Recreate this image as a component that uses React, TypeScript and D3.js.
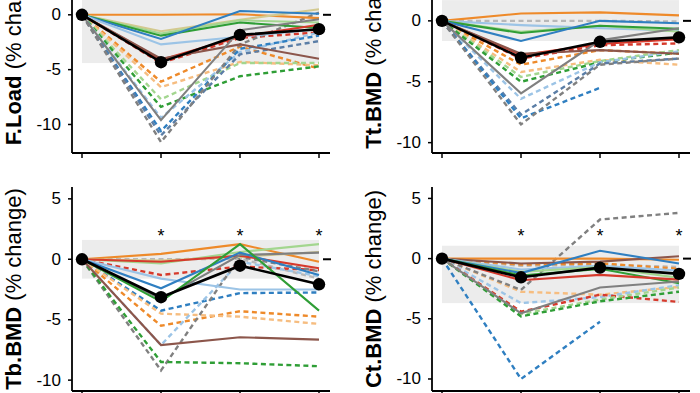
import React from "react";
import * as d3 from "d3";

// time points (baseline + 3 follow-ups)
const timepoints = [0, 1, 2, 3];
const subjects = ["P1", "P2", "P3", "P4", "P5", "P6", "P7", "P8", "P9", "P10", "P11", "P12"];
const yTicks = [-10, -5, 0, 5];

type Series = Record<string, (number | null)[]>;

// ---- F.Load ----
const fLoadSolid: Series = {
  P3: [0, 0, 0.05, -0.3],
  P10: [0, -1.5, -0.45, 0.5],
  P6: [0, -1.7, -0.5, -0.7],
  P5: [0, -1.9, -0.7, -1.2],
  P1: [0, -2.2, 0.35, 0.1],
  P2: [0, -2.7, -2.0, -1.3],
  P7: [0, -4.1, -2.0, -0.9],
  P8: [0, -4.0, -2.7, -4.0],
  P9: [0, -9.6, -1.4, -0.4],
};
const fLoadDashed: Series = {
  P7: [0, -4.4, -2.1, -1.6],
  P3: [0, -6.1, -2.9, -4.9],
  P4: [0, -6.6, -4.3, -4.6],
  P6: [0, -7.7, -4.4, -4.4],
  P5: [0, -8.4, -5.6, -4.7],
  P2: [0, -9.4, -3.4, -1.6],
  P1: [0, -10.6, -3.1, -1.9],
  P12: [0, -11.0, -3.6, -2.4],
  P9: [0, -11.6, -2.7, 0.2],
};
const fLoadMean = [0, -4.32, -1.83, -1.31];
const fLoadBand = [-4.4, 4.4];

// ---- Tt.BMD ----
const ttSolid: Series = {
  P3: [0, 0.6, 0.7, 0.45],
  P2: [0, -0.35, -0.6, -0.8],
  P6: [0, -0.9, -0.4, -0.9],
  P5: [0, -1.0, -0.4, -0.65],
  P1: [0, -1.65, 0, -0.2],
  P7: [0, -2.8, -1.9, -1.5],
  P8: [0, -2.7, -2.4, -2.7],
  P9: [0, -5.95, -1.6, -0.6],
};
const ttDashed: Series = {
  P11: [0, 0, 0, -0.05],
  P7: [0, -3.1, -2.0, -1.85],
  P3: [0, -3.6, -2.4, -2.7],
  P4: [0, -4.2, -3.2, -3.6],
  P6: [0, -4.6, -3.3, -2.4],
  P5: [0, -5.0, -3.4, -2.6],
  P2: [0, -6.4, -3.4, -2.5],
  P12: [0, -7.7, -3.5, -3.1],
  P1: [0, -8.0, -5.5, null],
  P9: [0, -8.5, -3.6, -3.1],
};
const ttMean = [0, -3.03, -1.72, -1.36];
const ttBand = [-1.65, 1.7];

// ---- Tb.BMD ----
const tbSolid: Series = {
  P3: [0, 0.45, 1.25, -0.2],
  P6: [0, -0.35, 0.6, 1.25],
  P10: [0, -0.1, 0.2, 0.6],
  P7: [0, -0.2, 0.3, -0.75],
  P2: [0, -1.6, -2.5, -2.5],
  P9: [0, -3.3, 0.35, 0.55],
  P1: [0, -2.4, 0.55, -1.3],
  P5: [0, -3.5, 1.25, -4.25],
  P8: [0, -7.1, -6.45, -6.65],
};
const tbDashed: Series = {
  P11: [0, 0, 0.05, -1.6],
  P7: [0, -1.3, -0.6, -0.9],
  P1: [0, -4.25, -2.8, -2.75],
  P3: [0, -5.5, -4.3, -4.75],
  P4: [0, -4.5, -4.75, -5.35],
  P2: [0, -7.1, -0.2, -1.4],
  P9: [0, -9.2, 0.2, -1.0],
  P5: [0, -8.5, -8.6, -8.85],
};
const tbMean = [0, -3.14, -0.53, -2.07];
const tbBand = [-1.6, 1.6];

// ---- Ct.BMD ----
const ctSolid: Series = {
  P3: [0, 0, 0, -0.1],
  P8: [0, -0.4, -0.25, 0.2],
  P2: [0, -0.9, -0.6, -1.0],
  P6: [0, -1.1, -0.7, -1.6],
  P1: [0, -1.2, 0.65, -0.4],
  P5: [0, -1.4, -0.85, -2.05],
  P7: [0, -1.8, -1.35, -1.75],
  P9: [0, -4.55, -2.4, -1.9],
};
const ctDashed: Series = {
  P11: [0, -0.6, -0.5, -0.7],
  P3: [0, -0.5, -0.4, -0.85],
  P4: [0, -2.75, -3.0, -2.35],
  P9: [0, -2.6, 3.25, 3.8],
  P2: [0, -3.7, -3.2, -2.2],
  P7: [0, -4.4, -3.0, -3.6],
  P6: [0, -4.6, -3.4, -2.4],
  P5: [0, -4.8, -3.55, -2.75],
  P1: [0, -10.0, -5.25, null],
};
const ctMean = [0, -1.55, -0.75, -1.27];
const ctBand = [-3.7, 1.07];

const color = d3
  .scaleOrdinal<string, string>()
  .domain(subjects)
  .range([
    "#2f7fc1", "#9cc4e6", "#ee8a2a", "#f6bd80", "#2f9e36", "#a3d68f",
    "#d63a2c", "#8c564b", "#808080", "#d3c98f", "#b8b8b8", "#5b7ea6",
  ]);

type PanelProps = {
  name: string;
  solid: Series;
  dashed: Series;
  mean: number[];
  band: number[];
  yDomain: [number, number];
  stars: boolean;
  left: number;
  top: number;
};

function Panel({ name, solid, dashed, mean, band, yDomain, stars, left, top }: PanelProps) {
  const axisX = left + 72;
  const axisEnd = left + 330;
  const bottom = top + 204;
  const x = d3.scalePoint<number>().domain(timepoints).range([left + 82, left + 319]);
  const y = d3.scaleLinear().domain(yDomain).range([bottom, top]);
  const line = d3
    .line<number | null>()
    .defined((d) => d !== null)
    .x((_, i) => x(timepoints[i]) as number)
    .y((d) => y(d as number));
  const xFirst = x(0) as number;
  const xLast = x(3) as number;

  return (
    <g>
      <rect
        x={xFirst}
        width={xLast - xFirst}
        y={y(band[1])}
        height={y(band[0]) - y(band[1])}
        fill="#ececec"
      />
      {Object.entries(dashed).map(([k, v]) => (
        <path key={"d" + k} d={line(v) || ""} fill="none" stroke={color(k)}
          strokeWidth={2.4} strokeDasharray="5,3.5" />
      ))}
      {Object.entries(solid).map(([k, v]) => (
        <path key={"s" + k} d={line(v) || ""} fill="none" stroke={color(k)} strokeWidth={2.1} />
      ))}
      <path d={line(mean) || ""} fill="none" stroke="#000" strokeWidth={2.6} />
      {mean.map((v, i) => (
        <circle key={i} cx={x(timepoints[i])} cy={y(v)} r={6.2} fill="#000" />
      ))}
      <line x1={xLast + 4} x2={xLast + 12} y1={y(0)} y2={y(0)} stroke="#000" strokeWidth={2} />
      {stars &&
        timepoints.slice(1).map((t) => (
          <text key={t} x={x(t)} y={y(2.25) + 10} textAnchor="middle" fontSize={18}
            fontFamily="Liberation Sans, Arial, sans-serif">*</text>
        ))}
      {/* axes */}
      <line x1={axisX} x2={axisX} y1={top} y2={bottom} stroke="#000" strokeWidth={1.8} />
      <line x1={axisX} x2={axisEnd} y1={bottom} y2={bottom} stroke="#000" strokeWidth={1.8} />
      {timepoints.map((t) => (
        <line key={t} x1={x(t)} x2={x(t)} y1={bottom} y2={bottom + 5} stroke="#000" strokeWidth={1.5} />
      ))}
      {yTicks.map((t) => (
        <g key={t}>
          <line x1={axisX - 4} x2={axisX} y1={y(t)} y2={y(t)} stroke="#000" strokeWidth={1.5} />
          <text x={axisX - 11} y={y(t)} textAnchor="end" dominantBaseline="central"
            fontSize={17} fontFamily="Liberation Sans, Arial, sans-serif">{t}</text>
        </g>
      ))}
      <text
        transform={`translate(${left + 13},${(top + bottom) / 2}) rotate(-90)`}
        textAnchor="middle"
        dominantBaseline="central"
        fontSize={22}
        fontFamily="Liberation Sans, Arial, sans-serif"
      >
        <tspan fontWeight="bold">{name}</tspan>
        <tspan> (% change)</tspan>
      </text>
    </g>
  );
}

export default function App() {
  return (
    <svg width={700} height={393} style={{ position: "absolute", left: 0, top: 0, background: "#fff" }}>
      <Panel name="F.Load" solid={fLoadSolid} dashed={fLoadDashed} mean={fLoadMean}
        band={fLoadBand} yDomain={[-12.6, 6]} stars={false} left={0} top={-51} />
      <Panel name="Tt.BMD" solid={ttSolid} dashed={ttDashed} mean={ttMean}
        band={ttBand} yDomain={[-10.85, 5.9]} stars={false} left={360} top={-51} />
      <Panel name="Tb.BMD" solid={tbSolid} dashed={tbDashed} mean={tbMean}
        band={tbBand} yDomain={[-10.9, 5.98]} stars={true} left={0} top={187} />
      <Panel name="Ct.BMD" solid={ctSolid} dashed={ctDashed} mean={ctMean}
        band={ctBand} yDomain={[-11.0, 5.95]} stars={true} left={360} top={187} />
    </svg>
  );
}
